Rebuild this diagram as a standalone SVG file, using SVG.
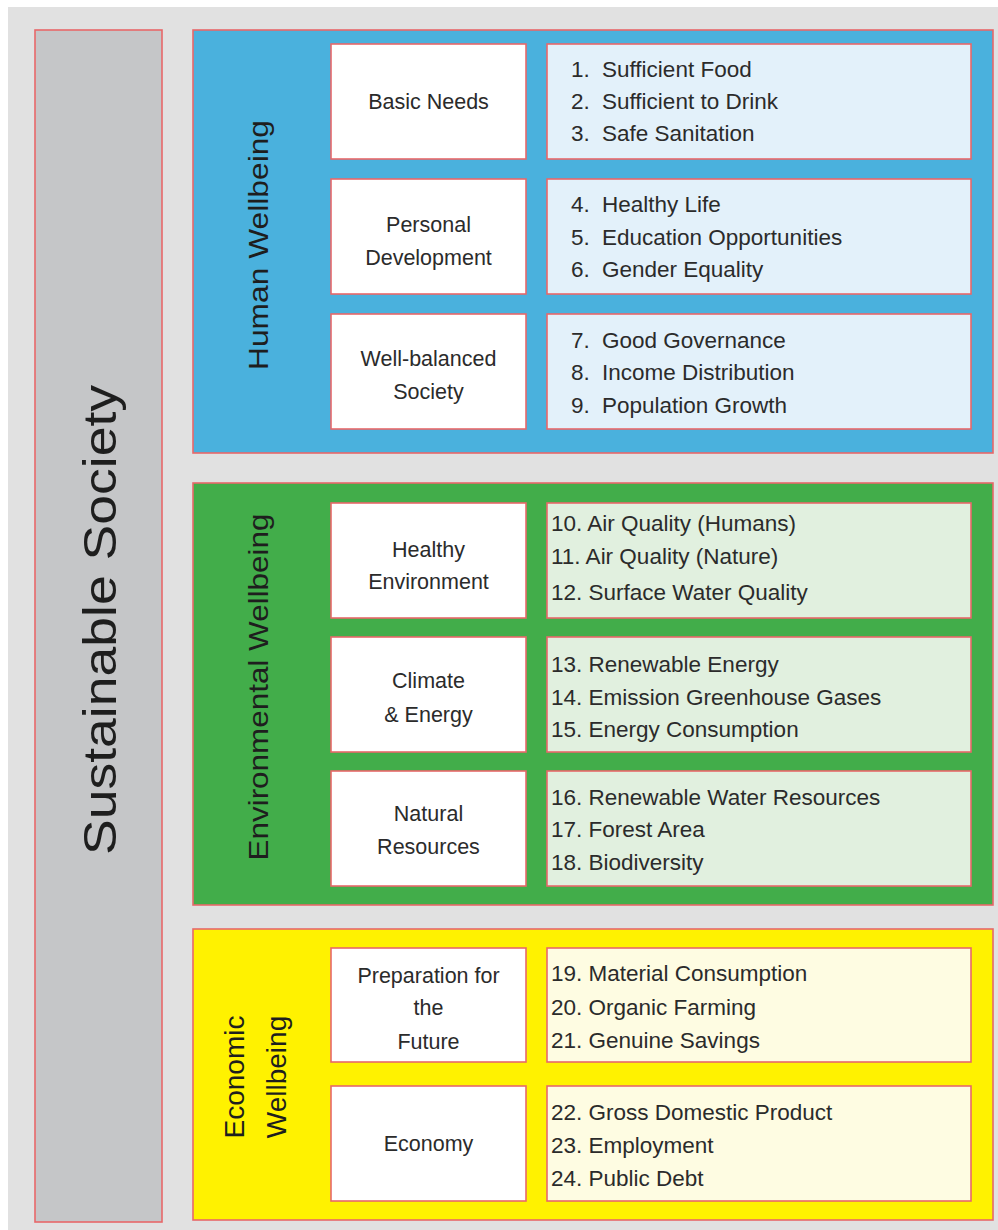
<svg xmlns="http://www.w3.org/2000/svg" width="998" height="1230" viewBox="0 0 998 1230">
<style>
.bd{stroke:#e8686a;stroke-width:1.6}
.lbl{font-family:"Liberation Sans",Arial,sans-serif;font-size:21.5px;fill:#2b2b2b;text-anchor:middle}
.lst{font-family:"Liberation Sans",Arial,sans-serif;font-size:22.5px;fill:#2b2b2b}
.vt{font-family:"Liberation Sans",Arial,sans-serif;font-size:28px;fill:#1e1e1e;text-anchor:middle;dominant-baseline:central}
.w{fill:#ffffff}
.lb{fill:#e3f1fa}
.lg{fill:#e1f0df}
.ly{fill:#fefce2}
</style>
<rect x="0" y="0" width="998" height="1230" fill="#ffffff"/>
<rect x="8" y="7" width="990" height="1223" fill="#e1e1e1"/>

<g id="sustainable-society">
<rect class="bd" x="35" y="30" width="127" height="1192" fill="#c5c6c8"/>
<text class="vt" transform="translate(100,620) rotate(-90)" style="font-size:46px" textLength="470" lengthAdjust="spacingAndGlyphs">Sustainable Society</text>
</g>

<g id="human-wellbeing">
<rect class="bd" x="193" y="30" width="800" height="423" fill="#4ab1dd"/>
<text class="vt" transform="translate(258,245) rotate(-90)" textLength="250" lengthAdjust="spacingAndGlyphs">Human Wellbeing</text>
</g>
<g id="basic-needs">
<rect class="bd w" x="331" y="44" width="195" height="115"/>
<text class="lbl" x="428.5" y="109">Basic Needs</text>
</g>
<g id="basic-needs-items">
<rect class="bd lb" x="547" y="44" width="424" height="115"/>
<text class="lst" y="77"><tspan x="571">1.</tspan><tspan x="602">Sufficient Food</tspan></text>
<text class="lst" y="109"><tspan x="571">2.</tspan><tspan x="602">Sufficient to Drink</tspan></text>
<text class="lst" y="141"><tspan x="571">3.</tspan><tspan x="602">Safe Sanitation</tspan></text>
</g>
<g id="personal-development">
<rect class="bd w" x="331" y="179" width="195" height="115"/>
<text class="lbl" x="428.5" y="232">Personal</text>
<text class="lbl" x="428.5" y="265">Development</text>
</g>
<g id="personal-development-items">
<rect class="bd lb" x="547" y="179" width="424" height="115"/>
<text class="lst" y="212"><tspan x="571">4.</tspan><tspan x="602">Healthy Life</tspan></text>
<text class="lst" y="245"><tspan x="571">5.</tspan><tspan x="602">Education Opportunities</tspan></text>
<text class="lst" y="277"><tspan x="571">6.</tspan><tspan x="602">Gender Equality</tspan></text>
</g>
<g id="well-balanced-society">
<rect class="bd w" x="331" y="314" width="195" height="115"/>
<text class="lbl" x="428.5" y="366">Well-balanced</text>
<text class="lbl" x="428.5" y="399">Society</text>
</g>
<g id="well-balanced-society-items">
<rect class="bd lb" x="547" y="314" width="424" height="115"/>
<text class="lst" y="348"><tspan x="571">7.</tspan><tspan x="602">Good Governance</tspan></text>
<text class="lst" y="380"><tspan x="571">8.</tspan><tspan x="602">Income Distribution</tspan></text>
<text class="lst" y="413"><tspan x="571">9.</tspan><tspan x="602">Population Growth</tspan></text>
</g>

<g id="environmental-wellbeing">
<rect class="bd" x="193" y="483" width="800" height="422" fill="#42ad4a"/>
<text class="vt" transform="translate(258,687) rotate(-90)" textLength="347" lengthAdjust="spacingAndGlyphs">Environmental Wellbeing</text>
</g>
<g id="healthy-environment">
<rect class="bd w" x="331" y="503" width="195" height="115"/>
<text class="lbl" x="428.5" y="557">Healthy</text>
<text class="lbl" x="428.5" y="589">Environment</text>
</g>
<g id="healthy-environment-items">
<rect class="bd lg" x="547" y="503" width="424" height="115"/>
<text class="lst" x="551" y="531">10. Air Quality (Humans)</text>
<text class="lst" x="551" y="564">11. Air Quality (Nature)</text>
<text class="lst" x="551" y="600">12. Surface Water Quality</text>
</g>
<g id="climate-energy">
<rect class="bd w" x="331" y="637" width="195" height="115"/>
<text class="lbl" x="428.5" y="688">Climate</text>
<text class="lbl" x="428.5" y="722">&amp; Energy</text>
</g>
<g id="climate-energy-items">
<rect class="bd lg" x="547" y="637" width="424" height="115"/>
<text class="lst" x="551" y="672">13. Renewable Energy</text>
<text class="lst" x="551" y="705">14. Emission Greenhouse Gases</text>
<text class="lst" x="551" y="737">15. Energy Consumption</text>
</g>
<g id="natural-resources">
<rect class="bd w" x="331" y="771" width="195" height="115"/>
<text class="lbl" x="428.5" y="821">Natural</text>
<text class="lbl" x="428.5" y="854">Resources</text>
</g>
<g id="natural-resources-items">
<rect class="bd lg" x="547" y="771" width="424" height="115"/>
<text class="lst" x="551" y="805">16. Renewable Water Resources</text>
<text class="lst" x="551" y="837">17. Forest Area</text>
<text class="lst" x="551" y="870">18. Biodiversity</text>
</g>

<g id="economic-wellbeing">
<rect class="bd" x="193" y="929" width="800" height="291" fill="#fff200"/>
<text class="vt" transform="translate(234,1077) rotate(-90)">Economic</text>
<text class="vt" transform="translate(276,1077) rotate(-90)">Wellbeing</text>
</g>
<g id="preparation-future">
<rect class="bd w" x="331" y="948" width="195" height="114"/>
<text class="lbl" x="428.5" y="983">Preparation for</text>
<text class="lbl" x="428.5" y="1015">the</text>
<text class="lbl" x="428.5" y="1049">Future</text>
</g>
<g id="preparation-future-items">
<rect class="bd ly" x="547" y="948" width="424" height="114"/>
<text class="lst" x="551" y="981">19. Material Consumption</text>
<text class="lst" x="551" y="1015">20. Organic Farming</text>
<text class="lst" x="551" y="1048">21. Genuine Savings</text>
</g>
<g id="economy">
<rect class="bd w" x="331" y="1086" width="195" height="115"/>
<text class="lbl" x="428.5" y="1151">Economy</text>
</g>
<g id="economy-items">
<rect class="bd ly" x="547" y="1086" width="424" height="115"/>
<text class="lst" x="551" y="1120">22. Gross Domestic Product</text>
<text class="lst" x="551" y="1153">23. Employment</text>
<text class="lst" x="551" y="1186">24. Public Debt</text>
</g>
<g id="connectors"></g>
</svg>
